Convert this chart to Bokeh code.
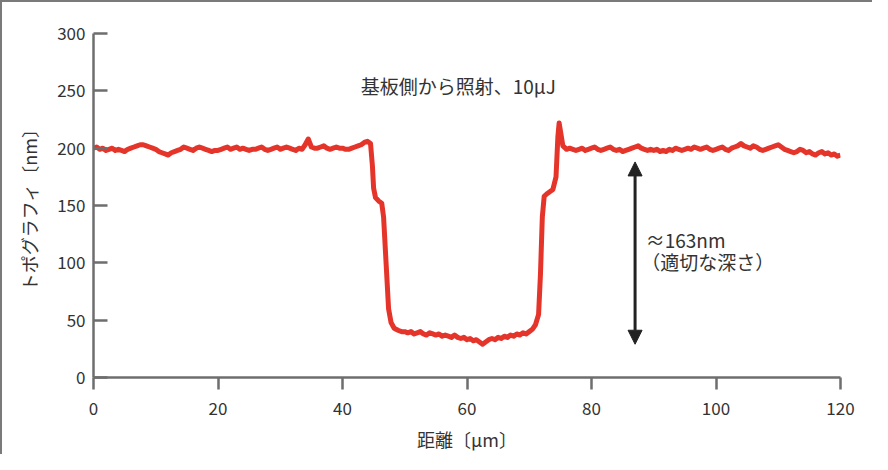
import numpy as np
from bokeh.plotting import figure
from bokeh.models import Range1d, Arrow, NormalHead
from bokeh.core.properties import value
from bokeh.embed import file_html
from bokeh.resources import INLINE

# ---- data ----
left_x = np.arange(0, 45, 0.5)
left_y = [200, 201, 199, 200, 198, 199, 200, 198, 199, 198, 197, 199, 200, 201, 202, 203,
          203, 202, 201, 200, 199, 197, 196, 195, 194, 196, 197, 198, 199, 201, 200, 199,
          198, 200, 201, 200, 199, 198, 197, 198, 198, 199, 200, 201, 199, 200, 201, 199,
          200, 199, 198, 199, 199, 200, 201, 199, 198, 199, 200, 201, 199, 200, 201, 200,
          199, 198, 200, 199, 203, 208, 201, 200, 200, 201, 202, 200, 199, 200, 201, 200,
          200, 199, 199, 200, 201, 202, 203, 205, 206, 204]

pit_x = [44.8, 45.0, 45.3, 45.8, 46.3, 46.6, 47.0, 47.4, 47.8, 48.3, 49.0, 49.5, 50.0, 50.5,
         51.0, 51.5, 52.0, 52.5, 53.0, 53.5, 54.0, 54.5, 55.0, 55.5, 56.0, 56.5, 57.0, 57.5,
         58.0, 58.5, 59.0, 59.5, 60.0, 60.5, 61.0, 61.5, 62.0, 62.5, 63.0, 63.5, 64.0, 64.5,
         65.0, 65.5, 66.0, 66.5, 67.0, 67.5, 68.0, 68.5, 69.0, 69.5, 70.0, 70.5, 71.0, 71.5,
         71.8, 72.1, 72.4, 72.8, 73.3, 73.8, 74.3, 74.6, 74.8, 75.1, 75.4, 75.8, 76.0]
pit_y = [185, 165, 157, 154, 152, 140, 100, 60, 48, 43, 41, 40, 40, 39,
         40, 38, 39, 40, 38, 37, 39, 38, 37, 38, 36, 37, 36, 35,
         37, 35, 34, 35, 33, 34, 32, 33, 31, 29, 31, 33, 34, 33,
         35, 34, 36, 35, 37, 36, 38, 37, 39, 38, 40, 42, 46, 55,
         90, 140, 158, 160, 162, 164, 175, 210, 222, 212, 202, 200, 199]

right_x = np.arange(76.5, 120.01, 0.5)
right_y = [200, 199, 198, 199, 200, 198, 199, 200, 201, 199, 198, 199, 200, 201, 199, 198,
           199, 197, 198, 199, 200, 201, 202, 200, 199, 198, 199, 198, 199, 197, 198, 197,
           199, 198, 200, 199, 198, 199, 200, 199, 201, 200, 199, 200, 201, 199, 198, 199,
           200, 201, 199, 198, 200, 201, 202, 204, 202, 201, 200, 202, 201, 199, 198, 199,
           200, 201, 202, 203, 201, 199, 198, 197, 196, 197, 199, 198, 196, 197, 195, 194,
           196, 197, 195, 196, 194, 195, 193, 194]

x_ticks = [0, 20, 40, 60, 80, 100, 120]
y_ticks = [0, 50, 100, 150, 200, 250, 300]

title_text = "基板側から照射、10μJ"
title_pos = (58.6, 255)
depth_text = ["≈163nm", "（適切な深さ）"]
depth_pos_x = [88.7, 88.0]
depth_pos_y = [120, 101]
arrow_x = 87.0
arrow_top = 188
arrow_bottom = 29

FONT = "Noto Sans CJK JP"
TXT = "#333333"

distance = list(left_x) + pit_x + list(right_x)
topo = left_y + pit_y + right_y

p = figure(frame_width=747, frame_height=344,
           x_range=Range1d(0, 120), y_range=Range1d(0, 300),
           output_backend="svg", toolbar_location=None,
           min_border_left=91, min_border_right=32, min_border_top=31, min_border_bottom=77)
p.styles = {"border-top": "2px solid #7a7a7a", "border-left": "2px solid #7a7a7a"}
p.grid.visible = False
p.outline_line_color = None
p.background_fill_color = "white"
p.border_fill_color = "white"

p.line(distance, topo, line_color="#e5352b", line_width=5, line_join="round")

p.add_layout(Arrow(x_start=arrow_x, y_start=arrow_bottom, x_end=arrow_x, y_end=arrow_top,
                   line_color="#222222", line_width=3,
                   start=NormalHead(size=14, fill_color="#222222", line_color="#222222"),
                   end=NormalHead(size=14, fill_color="#222222", line_color="#222222")))

p.text(x=[title_pos[0]], y=[title_pos[1]], text=[title_text], text_font=value(FONT),
       text_font_size="19px", text_color=TXT, text_align="center", text_baseline="middle")
p.text(x=depth_pos_x, y=depth_pos_y, text=depth_text, text_font=value(FONT),
       text_font_size="19px", text_color=TXT, text_align="left", text_baseline="middle")

for ax in (p.xaxis, p.yaxis):
    ax.axis_line_color = "#6e6e6e"
    ax.axis_line_width = 2.5
    ax.major_tick_line_color = "#6e6e6e"
    ax.major_tick_line_width = 2.5
    ax.minor_tick_line_color = None
    ax.major_label_text_font = FONT
    ax.major_label_text_font_size = "17px"
    ax.major_label_text_color = TXT
    ax.axis_label_text_font = FONT
    ax.axis_label_text_font_size = "18px"
    ax.axis_label_text_font_style = "normal"
    ax.axis_label_text_color = TXT

p.xaxis.ticker = x_ticks
p.yaxis.ticker = y_ticks
p.xaxis.major_tick_in = 0
p.xaxis.major_tick_out = 12
p.yaxis.major_tick_in = 14
p.yaxis.major_tick_out = 0
p.xaxis.major_label_standoff = 12
p.yaxis.major_label_standoff = 8
p.xaxis.axis_label = "距離〔μm〕"
p.yaxis.axis_label = "トポグラフィ〔nm〕"
p.xaxis.axis_label_standoff = 8
p.yaxis.axis_label_standoff = 12

open("out.html", "w").write(file_html(p, INLINE))
